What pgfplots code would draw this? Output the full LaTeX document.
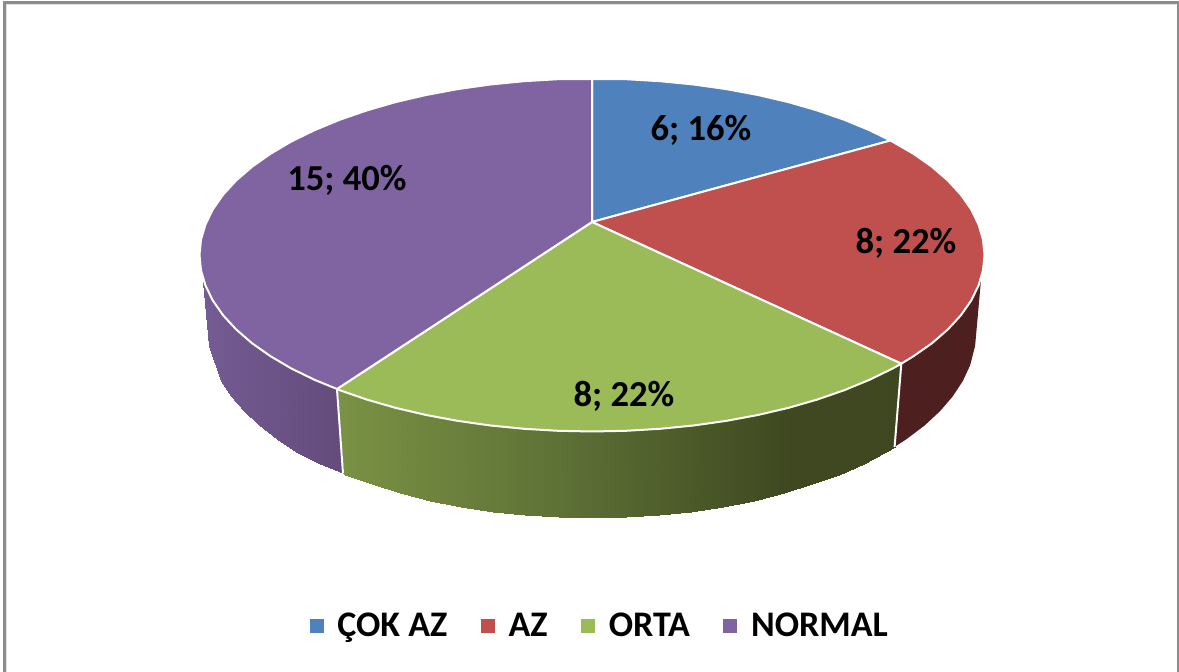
\documentclass[border=0pt]{standalone}
\usepackage{fontspec}
\setmainfont{Carlito}
\usepackage{pgfplots}
\pgfplotsset{compat=1.18}
\definecolor{pieblue}{HTML}{4F81BD}
\definecolor{piered}{HTML}{C0504D}
\definecolor{piegreen}{HTML}{9BBB59}
\definecolor{piepurple}{HTML}{8064A2}
\definecolor{redside}{HTML}{4D1F1E}
\definecolor{framegray}{HTML}{8C8C8C}
\pgfplotsset{
  wedge/.style={fill=#1,draw=white,line width=1pt,line join=round},
  seam/.style={draw=white,line width=1pt},
  colormap={greenwall}{rgb255(0pt)=(122,146,68); rgb255(337pt)=(122,146,68); rgb255(560pt)=(94,113,54); rgb255(700pt)=(74,88,40); rgb255(790pt)=(63,72,33); rgb255(1179pt)=(61,70,33)},
  colormap={purplewall}{rgb255(0pt)=(116,92,148); rgb255(203pt)=(116,92,148); rgb255(343pt)=(99,75,123); rgb255(1179pt)=(99,75,123)},
}
\newcommand{\lbl}{\fontsize{18}{20}\selectfont\bfseries}
\newcommand{\dlbl}{\fontsize{18.3}{20}\selectfont\bfseries}
\begin{document}
\begin{tikzpicture}
\begin{axis}[
  name=ax,
  width=589.5pt, height=336pt, scale only axis,
  xmin=0, xmax=1179, ymin=0, ymax=672, y dir=reverse,
  hide axis, point meta min=0, point meta max=1179,
  legend columns=4,
  legend style={at={(axis cs:601,626)},anchor=center,draw=none,fill=none,font=\lbl,
    /tikz/every even column/.append style={column sep=15pt}},
  legend image code/.code={\draw[#1,mark size=3.25pt] plot coordinates {(0.1cm,0cm)};\path (0pt,0pt) (11pt,0pt);},
]
% frame
\addplot[draw=framegray,line width=1.5pt,forget plot] coordinates {(4.5,672) (4.5,2.5) (1178,2.5) (1178,672)};
\addplot[draw=black!12,line width=0.5pt,forget plot] coordinates {(6.5,672) (6.5,4.5) (1176,4.5)};
% side walls, drawn first
\addplot[surf,shader=interp,forget plot,colormap name=greenwall,mesh/rows=2,point meta=x] table {
x y
901.3 363.7
892.7 368.5
869.5 379.8
844.3 390.2
817.1 399.6
788.3 407.9
757.9 415
726.2 420.9
693.6 425.5
660.1 428.8
626.2 430.8
592 431.5
557.8 430.8
523.9 428.8
490.4 425.5
457.8 420.9
426.1 415
395.7 407.9
366.9 399.6
339.7 390.2
337 389
894.6 446.9
886.2 451.9
863.5 463.8
838.8 474.7
812.3 484.5
784 493.2
754.3 500.7
723.3 506.8
691.4 511.7
658.7 515.2
625.5 517.3
592 518
558.5 517.3
525.3 515.2
492.6 511.7
460.7 506.8
429.7 500.7
400 493.2
371.7 484.5
345.2 474.7
343 473.5
};
\addplot[surf,shader=interp,forget plot,colormap name=purplewall,mesh/rows=2,point meta=x] table {
x y
337 389
314.5 379.8
291.3 368.5
270.5 356.2
252.1 343.3
236.3 329.6
223.2 315.4
212.9 300.7
203 282
343 473.5
320.5 463.8
295.8 451.9
277.4 439.1
259.4 425.5
244 411.2
231.2 396.3
221.1 380.9
208.9 345.9
};
\addplot[fill=redside,draw=none,forget plot] coordinates {
(981,280) (978.5,285.6) (971.1,300.7) (960.8,315.4) (947.7,329.6) (931.9,343.3) (913.5,356.2) (901.3,363.7)
(894.6,446.9) (906.6,439.1) (924.6,425.5) (940,411.2) (952.8,396.3) (962.9,380.9) (970.2,365.1) (975.1,345.9)} -- cycle;
\addplot[seam,forget plot] coordinates {(337,389) (343,473.5)};
\addplot[seam,forget plot] coordinates {(901.3,363.7) (894.6,446.9)};
% top faces
\addplot[wedge=pieblue,forget plot] coordinates {
(592,222) (592,79) (626.2,79.2) (660.1,81.2) (693.6,84.5) (726.2,89.1) (757.9,95) (788.3,102.1) (817.1,110.4)
(844.3,119.8) (869.5,130.2) (890.5,140.5)} -- cycle;
\addplot[wedge=piered,forget plot] coordinates {
(592,222) (890.5,140.5) (913.5,153.8) (931.9,166.7) (947.7,180.4) (960.8,194.6) (971.1,209.3) (978.5,224.4)
(983,239.6) (984.5,255) (983,270.4) (978.5,285.6) (971.1,300.7) (960.8,315.4) (947.7,329.6) (931.9,343.3)
(913.5,356.2) (901.3,363.7)} -- cycle;
\addplot[wedge=piegreen,forget plot] coordinates {
(592,222) (901.3,363.7) (892.7,368.5) (869.5,379.8) (844.3,390.2) (817.1,399.6) (788.3,407.9) (757.9,415)
(726.2,420.9) (693.6,425.5) (660.1,428.8) (626.2,430.8) (592,431.5) (557.8,430.8) (523.9,428.8) (490.4,425.5)
(457.8,420.9) (426.1,415) (395.7,407.9) (366.9,399.6) (339.7,390.2) (337,389)} -- cycle;
\addplot[wedge=piepurple,forget plot] coordinates {
(592,222) (337,389) (314.5,379.8) (291.3,368.5) (270.5,356.2) (252.1,343.3) (236.3,329.6) (223.2,315.4)
(212.9,300.7) (205.5,285.6) (201,270.4) (199.5,255) (201,239.6) (205.5,224.4) (212.9,209.3) (223.2,194.6)
(236.3,180.4) (252.1,166.7) (270.5,153.8) (291.3,141.5) (314.5,130.2) (339.7,119.8) (366.9,110.4) (395.7,102.1)
(426.1,95) (457.8,89.1) (490.4,84.5) (523.9,81.2) (557.8,79.2) (592,79)} -- cycle;
% legend
\addlegendimage{only marks,mark=square*,color=pieblue}
\addlegendentry{ÇOK AZ}
\addlegendimage{only marks,mark=square*,color=piered}
\addlegendentry{AZ}
\addlegendimage{only marks,mark=square*,color=piegreen}
\addlegendentry{ORTA}
\addlegendimage{only marks,mark=square*,color=piepurple}
\addlegendentry{NORMAL}
% data labels
\node[font=\dlbl] at (axis cs:701,130) {6; 16\%};
\node[font=\dlbl] at (axis cs:906,243) {8; 22\%};
\node[font=\dlbl] at (axis cs:624,396) {8; 22\%};
\node[font=\dlbl] at (axis cs:347,180) {15; 40\%};
\end{axis}
\pgfresetboundingbox
\path (ax.south west) rectangle (ax.north east);
\end{tikzpicture}
\end{document}
